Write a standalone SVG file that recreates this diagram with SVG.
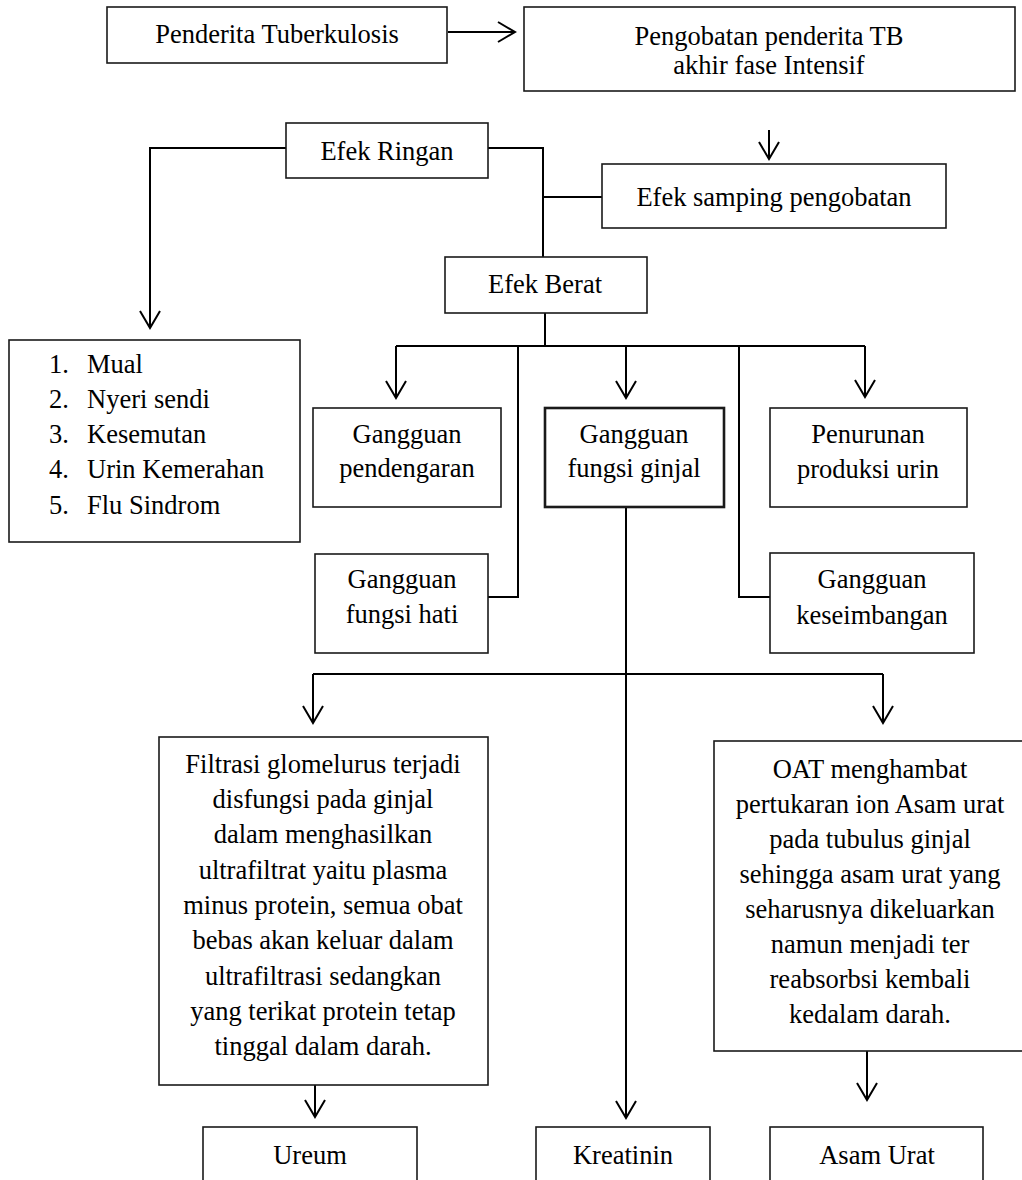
<svg xmlns="http://www.w3.org/2000/svg" width="1022" height="1180" viewBox="0 0 1022 1180">
<style>
  .box { fill: #fff; stroke: #1a1a1a; stroke-width: 1.6; }
  .bold { stroke-width: 2.6; }
  .t { font-family: "Liberation Serif", "Times New Roman", serif; font-size: 26.5px; fill: #000; }
  .c { text-anchor: middle; }
  .ln { fill: none; stroke: #000; stroke-width: 2; }
</style>
<defs>
  <marker id="arr" viewBox="-19 -12 21 24" markerWidth="21" markerHeight="24" refX="0" refY="0" orient="auto" markerUnits="userSpaceOnUse" overflow="visible">
    <path d="M-17,-10 L0,0 L-17,10" fill="none" stroke="#000" stroke-width="2"/>
  </marker>
</defs>
<rect width="1022" height="1180" fill="#fff"/>

<g id="connectors">
  <path class="ln" d="M448,32 H515" marker-end="url(#arr)"/>
  <path class="ln" d="M769,130 V159" marker-end="url(#arr)"/>
  <path class="ln" d="M286,148 H150 V328" marker-end="url(#arr)"/>
  <path class="ln" d="M488,148 H543 V257"/>
  <path class="ln" d="M543,197 H602"/>
  <path class="ln" d="M545,313 V346"/>
  <path class="ln" d="M396,346 H865"/>
  <path class="ln" d="M396,346 V398" marker-end="url(#arr)"/>
  <path class="ln" d="M626,346 V398" marker-end="url(#arr)"/>
  <path class="ln" d="M865,346 V397" marker-end="url(#arr)"/>
  <path class="ln" d="M518,346 V597 H488"/>
  <path class="ln" d="M739,346 V597 H770"/>
  <path class="ln" d="M626,507 V1118" marker-end="url(#arr)"/>
  <path class="ln" d="M313,674 H883"/>
  <path class="ln" d="M313,674 V723" marker-end="url(#arr)"/>
  <path class="ln" d="M883,674 V723" marker-end="url(#arr)"/>
  <path class="ln" d="M315,1085 V1117" marker-end="url(#arr)"/>
  <path class="ln" d="M867,1051 V1100" marker-end="url(#arr)"/>
</g>

<g id="penderita">
  <rect class="box" x="107" y="7" width="340" height="56"/>
  <text class="t c" x="277" y="43">Penderita Tuberkulosis</text>
</g>
<g id="pengobatan">
  <rect class="box" x="524" y="7" width="491" height="84"/>
  <text class="t c" x="769" y="45">Pengobatan penderita TB</text>
  <text class="t c" x="769" y="74">akhir fase Intensif</text>
</g>
<g id="efek-ringan">
  <rect class="box" x="286" y="123" width="202" height="55"/>
  <text class="t c" x="387" y="160">Efek Ringan</text>
</g>
<g id="efek-samping">
  <rect class="box" x="602" y="164" width="344" height="64"/>
  <text class="t c" x="774" y="206">Efek samping pengobatan</text>
</g>
<g id="efek-berat">
  <rect class="box" x="445" y="257" width="202" height="56"/>
  <text class="t c" x="545" y="293">Efek Berat</text>
</g>
<g id="efek-ringan-list">
  <rect class="box" x="9" y="340" width="291" height="202"/>
  <text class="t" x="49" y="373">1.</text><text class="t" x="87" y="373">Mual</text>
  <text class="t" x="49" y="408">2.</text><text class="t" x="87" y="408">Nyeri sendi</text>
  <text class="t" x="49" y="443">3.</text><text class="t" x="87" y="443">Kesemutan</text>
  <text class="t" x="49" y="478">4.</text><text class="t" x="87" y="478">Urin Kemerahan</text>
  <text class="t" x="49" y="514">5.</text><text class="t" x="87" y="514">Flu Sindrom</text>
</g>
<g id="pendengaran">
  <rect class="box" x="313" y="408" width="188" height="99"/>
  <text class="t c" x="407" y="443">Gangguan</text>
  <text class="t c" x="407" y="477">pendengaran</text>
</g>
<g id="ginjal">
  <rect class="box bold" x="545" y="408" width="179" height="99"/>
  <text class="t c" x="634" y="443">Gangguan</text>
  <text class="t c" x="634" y="477">fungsi ginjal</text>
</g>
<g id="penurunan">
  <rect class="box" x="770" y="408" width="197" height="99"/>
  <text class="t c" x="868" y="443">Penurunan</text>
  <text class="t c" x="868" y="478">produksi urin</text>
</g>
<g id="hati">
  <rect class="box" x="315" y="554" width="173" height="99"/>
  <text class="t c" x="402" y="588">Gangguan</text>
  <text class="t c" x="402" y="623">fungsi hati</text>
</g>
<g id="keseimbangan">
  <rect class="box" x="770" y="553" width="204" height="100"/>
  <text class="t c" x="872" y="588">Gangguan</text>
  <text class="t c" x="872" y="624">keseimbangan</text>
</g>
<g id="filtrasi">
  <rect class="box" x="159" y="737" width="329" height="348"/>
  <text class="t c" x="323" y="773">Filtrasi glomelurus terjadi</text>
  <text class="t c" x="323" y="808">disfungsi pada ginjal</text>
  <text class="t c" x="323" y="843">dalam menghasilkan</text>
  <text class="t c" x="323" y="879">ultrafiltrat yaitu plasma</text>
  <text class="t c" x="323" y="914">minus protein, semua obat</text>
  <text class="t c" x="323" y="949">bebas akan keluar dalam</text>
  <text class="t c" x="323" y="985">ultrafiltrasi sedangkan</text>
  <text class="t c" x="323" y="1020">yang terikat protein tetap</text>
  <text class="t c" x="323" y="1055">tinggal dalam darah.</text>
</g>
<g id="oat">
  <rect class="box" x="714" y="741" width="320" height="310"/>
  <text class="t c" x="870" y="778">OAT menghambat</text>
  <text class="t c" x="870" y="813">pertukaran ion Asam urat</text>
  <text class="t c" x="870" y="848">pada tubulus ginjal</text>
  <text class="t c" x="870" y="883">sehingga asam urat yang</text>
  <text class="t c" x="870" y="918">seharusnya dikeluarkan</text>
  <text class="t c" x="870" y="953">namun menjadi ter</text>
  <text class="t c" x="870" y="988">reabsorbsi kembali</text>
  <text class="t c" x="870" y="1023">kedalam darah.</text>
</g>
<g id="ureum">
  <rect class="box" x="203" y="1127" width="214" height="70"/>
  <text class="t c" x="310" y="1164">Ureum</text>
</g>
<g id="kreatinin">
  <rect class="box" x="536" y="1127" width="174" height="70"/>
  <text class="t c" x="623" y="1164">Kreatinin</text>
</g>
<g id="asam-urat">
  <rect class="box" x="770" y="1127" width="213" height="70"/>
  <text class="t c" x="877" y="1164">Asam Urat</text>
</g>
</svg>
